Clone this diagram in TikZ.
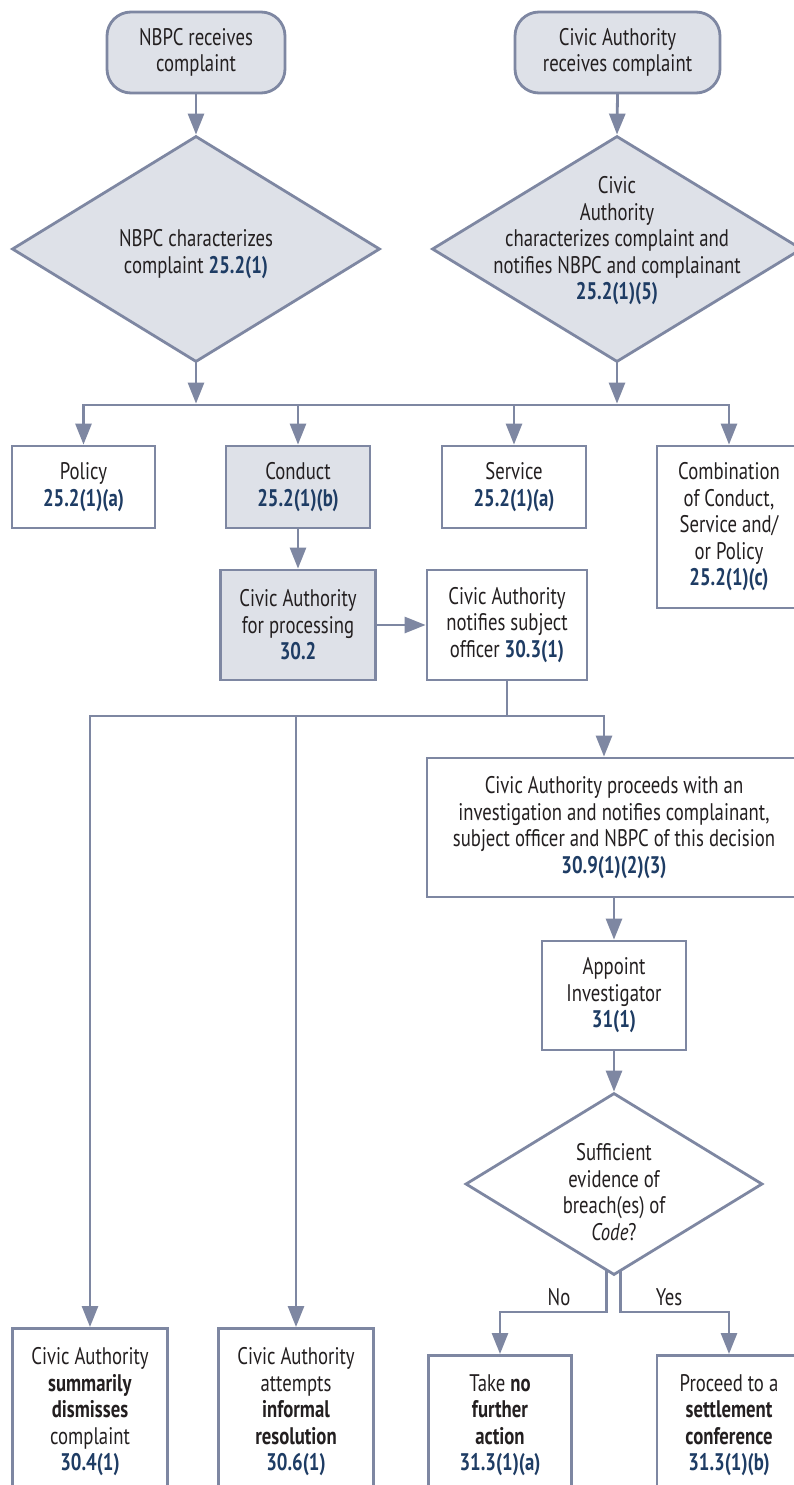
\documentclass[tikz,border=0pt]{standalone}
\usepackage{fontspec}
\setmainfont{PT Sans}[FakeStretch=0.78]
\usetikzlibrary{arrows.meta,shapes.geometric}
\definecolor{flowline}{RGB}{126,135,162}
\definecolor{flowfill}{RGB}{222,225,232}
\definecolor{sectblue}{RGB}{30,60,100}
\definecolor{flowtext}{RGB}{35,31,32}
\newcommand{\sect}[1]{\textbf{\color{sectblue}#1}}

\begin{document}
\begin{tikzpicture}%
	[x=1pt, y=-1pt,
	line/.style={color=flowline, line width=2.8pt, line cap=rect},
	arrow/.style={line, -{Triangle[width=16pt,length=21pt]}},
	box/.style={draw=flowline, line width=2.8pt, fill=white, text=flowtext, align=center, inner sep=0pt, font=\fontsize{24}{26.5}\selectfont},
	shadedbox/.style={box, fill=flowfill},
	startbox/.style={shadedbox, rounded corners=24pt},
	decision/.style={diamond, draw=flowline, line width=2.8pt, fill=flowfill, inner sep=0pt},
	openbox/.style={box, anchor=north, inner ysep=19pt, text depth=40pt},
	tag/.style={text=flowtext, align=center, inner sep=0pt, font=\fontsize{24}{26.5}\selectfont}]
%
\clip (0,0) rectangle (794,1485);
\fill[white] (0,0) rectangle (794,1485);
%%
%% Drawing the nodes
%%
\node[startbox, minimum width=178pt, minimum height=81pt] (nbpcin) at (196,52.5) {NBPC receives\\complaint};
\node[startbox, minimum width=205pt, minimum height=81pt] (civicin) at (617.5,52.5) {Civic Authority\\receives complaint};
\node[decision, minimum width=368pt, minimum height=226pt] (nbpcchar) at (196,249) {};
\node[tag] (nbpcchartext) at (196,254) {NBPC characterizes\\complaint \sect{25.2(1)}};
\node[decision, minimum width=370pt, minimum height=226pt] (civicchar) at (617,249) {};
\node[tag] (civicchartext) at (617,241) {Civic\\Authority\\characterizes complaint and\\notifies NBPC and complainant\\\sect{25.2(1)(5)}};
%
\node[box, minimum width=143pt, minimum height=82pt] (policy) at (83.5,487) {Policy\\\sect{25.2(1)(a)}};
\node[shadedbox, minimum width=144pt, minimum height=82pt] (conduct) at (298,487) {Conduct\\\sect{25.2(1)(b)}};
\node[box, minimum width=144pt, minimum height=82pt] (service) at (514,487) {Service\\\sect{25.2(1)(a)}};
\node[box, minimum width=144pt, minimum height=162pt] (combo) at (729,527) {Combination\\of Conduct,\\Service and/\\or Policy\\\sect{25.2(1)(c)}};
\node[shadedbox, minimum width=155pt, minimum height=110pt] (process) at (298,625) {Civic Authority\\for processing\\\sect{30.2}};
\node[box, minimum width=160pt, minimum height=110pt] (notify) at (507,625) {Civic Authority\\notifies subject\\officer \sect{30.3(1)}};
%
\node[box, minimum width=374pt, minimum height=139pt] (investigate) at (614,827.5) {Civic Authority proceeds with an\\investigation and notifies complainant,\\subject officer and NBPC of this decision\\\sect{30.9(1)(2)(3)}};
\node[box, minimum width=144pt, minimum height=109pt] (appoint) at (614,995.5) {Appoint\\Investigator\\\sect{31(1)}};
\node[decision, fill=white, minimum width=297pt, minimum height=182pt] (evidence) at (614,1184) {};
\node[tag] (evidencetext) at (614,1192) {Sufficient\\evidence of\\breach(es) of\\\textit{Code}?};
%
\node[openbox, minimum width=155pt] (dismiss) at (90,1327) {Civic Authority\\\textbf{summarily}\\\textbf{dismisses}\\complaint\\\sect{30.4(1)}};
\node[openbox, minimum width=155pt] (informal) at (296,1327) {Civic Authority\\attempts\\\textbf{informal}\\\textbf{resolution}\\\sect{30.6(1)}};
\node[openbox, minimum width=143pt] (noaction) at (500,1354) {Take \textbf{no}\\\textbf{further}\\\textbf{action}\\\sect{31.3(1)(a)}};
\node[openbox, minimum width=144pt] (settle) at (729,1354) {Proceed to a\\\textbf{settlement}\\\textbf{conference}\\\sect{31.3(1)(b)}};
%%
%% Drawing the connectors
%%
\coordinate (busleft) at (84,405);
\coordinate (splitleft) at (90,716);
\coordinate (splitright) at (604,716);
\coordinate (turn) at (614,1312);
%
\draw[arrow] (nbpcin.south) -- (nbpcchar.north);
\draw[arrow] (civicin.south) -- (civicchar.north);
\draw[line] (busleft) -- (combo.north |- busleft);
\draw[arrow, shorten >=1.4pt] (nbpcchar.south) -- (nbpcchar.south |- busleft);
\draw[arrow, shorten >=1.4pt] (civicchar.south) -- (civicchar.south |- busleft);
\foreach \target in {policy,conduct,service,combo}
	\draw[arrow] (\target.north |- busleft) -- (\target.north);
\draw[arrow] (conduct.south) -- (process.north);
\draw[arrow] (process.east) -- (notify.west);
%
\draw[line] (notify.south) -- (notify.south |- splitleft);
\draw[line] (splitleft) -- (splitright);
\draw[arrow] (splitleft) -- (dismiss.north);
\draw[arrow] (informal.north |- splitleft) -- (informal.north);
\draw[arrow] (splitright) -- (splitright |- investigate.north);
\draw[arrow] (investigate.south) -- (appoint.north);
\draw[arrow] (appoint.south) -- (evidence.north);
%
\draw[arrow] (evidence.265) -- (evidence.265 |- turn) -| (noaction.north);
\draw[arrow] (evidence.274) -- (evidence.274 |- turn) -| (settle.north);
\node[tag, anchor=base] (nolabel) at (559,1305) {No};
\node[tag, anchor=base] (yeslabel) at (669,1305) {Yes};
\end{tikzpicture}
\end{document}
